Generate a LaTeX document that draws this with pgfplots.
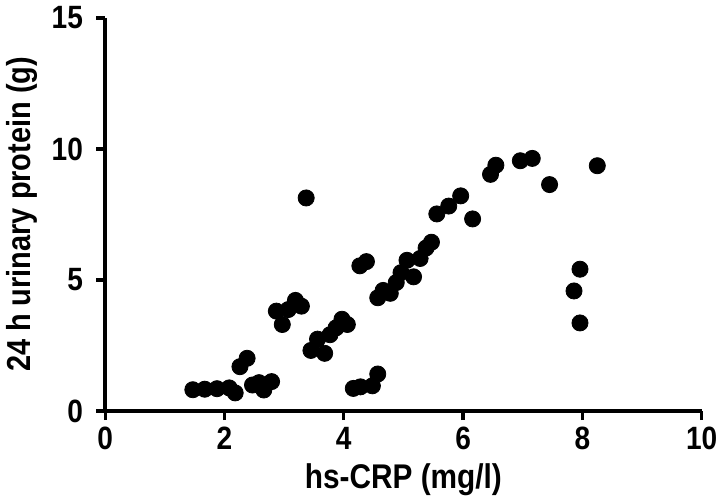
\documentclass[border=0pt]{standalone}
\usepackage{fontspec}
\setmainfont{Liberation Sans}
\newfontfamily\condfont[FakeStretch=0.87]{Liberation Sans}
\usepackage{pgfplots}
\pgfplotsset{compat=1.18}
\begin{document}
\begin{tikzpicture}
\begin{axis}[
  scale only axis, width=296pt, height=195pt,
  xmin=0, xmax=10, ymin=0, ymax=15,
  axis x line*=bottom, axis y line*=left,
  axis line style={line width=2pt,-},
  xtick={0,2,4,6,8,10}, ytick={0,5,10,15},
  tick align=outside, major tick length=4.5pt,
  tick style={line width=1.6pt,black},
  minor tick num=0,
  ticklabel style={font=\condfont\fontsize{16}{16}\selectfont\bfseries},
  yticklabel style={xshift=-3pt},
  /pgf/number format/assume math mode=true,
  xlabel={hs-CRP (mg/l)}, ylabel={24 h urinary protein (g)},
  xlabel style={font=\condfont\fontsize{17}{17}\selectfont\bfseries},
  ylabel style={font=\condfont\fontsize{16.5}{16.5}\selectfont\bfseries},
  clip=false,
]
\addplot[only marks, mark=*, mark size=4pt, black] coordinates {
(1.47,0.81) (1.67,0.83) (1.875,0.85) (2.08,0.88) (2.18,0.69)
(2.26,1.69) (2.38,2.01)
(2.47,0.99) (2.58,1.08) (2.66,0.8) (2.79,1.12)
(2.87,3.81) (2.97,3.3) (3.07,3.87) (3.19,4.22) (3.29,4.0)
(3.37,8.13)
(3.45,2.31) (3.56,2.74) (3.68,2.2) (3.77,2.91) (3.87,3.17) (3.97,3.5) (4.06,3.3)
(4.16,0.86) (4.28,0.92) (4.48,0.96) (4.57,1.41)
(4.27,5.54) (4.38,5.70)
(4.57,4.32) (4.66,4.6) (4.78,4.49) (4.88,4.9) (4.96,5.28) (5.06,5.75) (5.17,5.12)
(5.28,5.82) (5.38,6.22) (5.47,6.44)
(5.56,7.52) (5.76,7.82) (5.96,8.21) (6.16,7.33)
(6.46,9.03) (6.55,9.38)
(6.96,9.55) (7.16,9.64)
(7.45,8.64)
(8.25,9.36)
(7.96,5.41) (7.86,4.58) (7.96,3.36)
};
\end{axis}
\end{tikzpicture}
\end{document}
